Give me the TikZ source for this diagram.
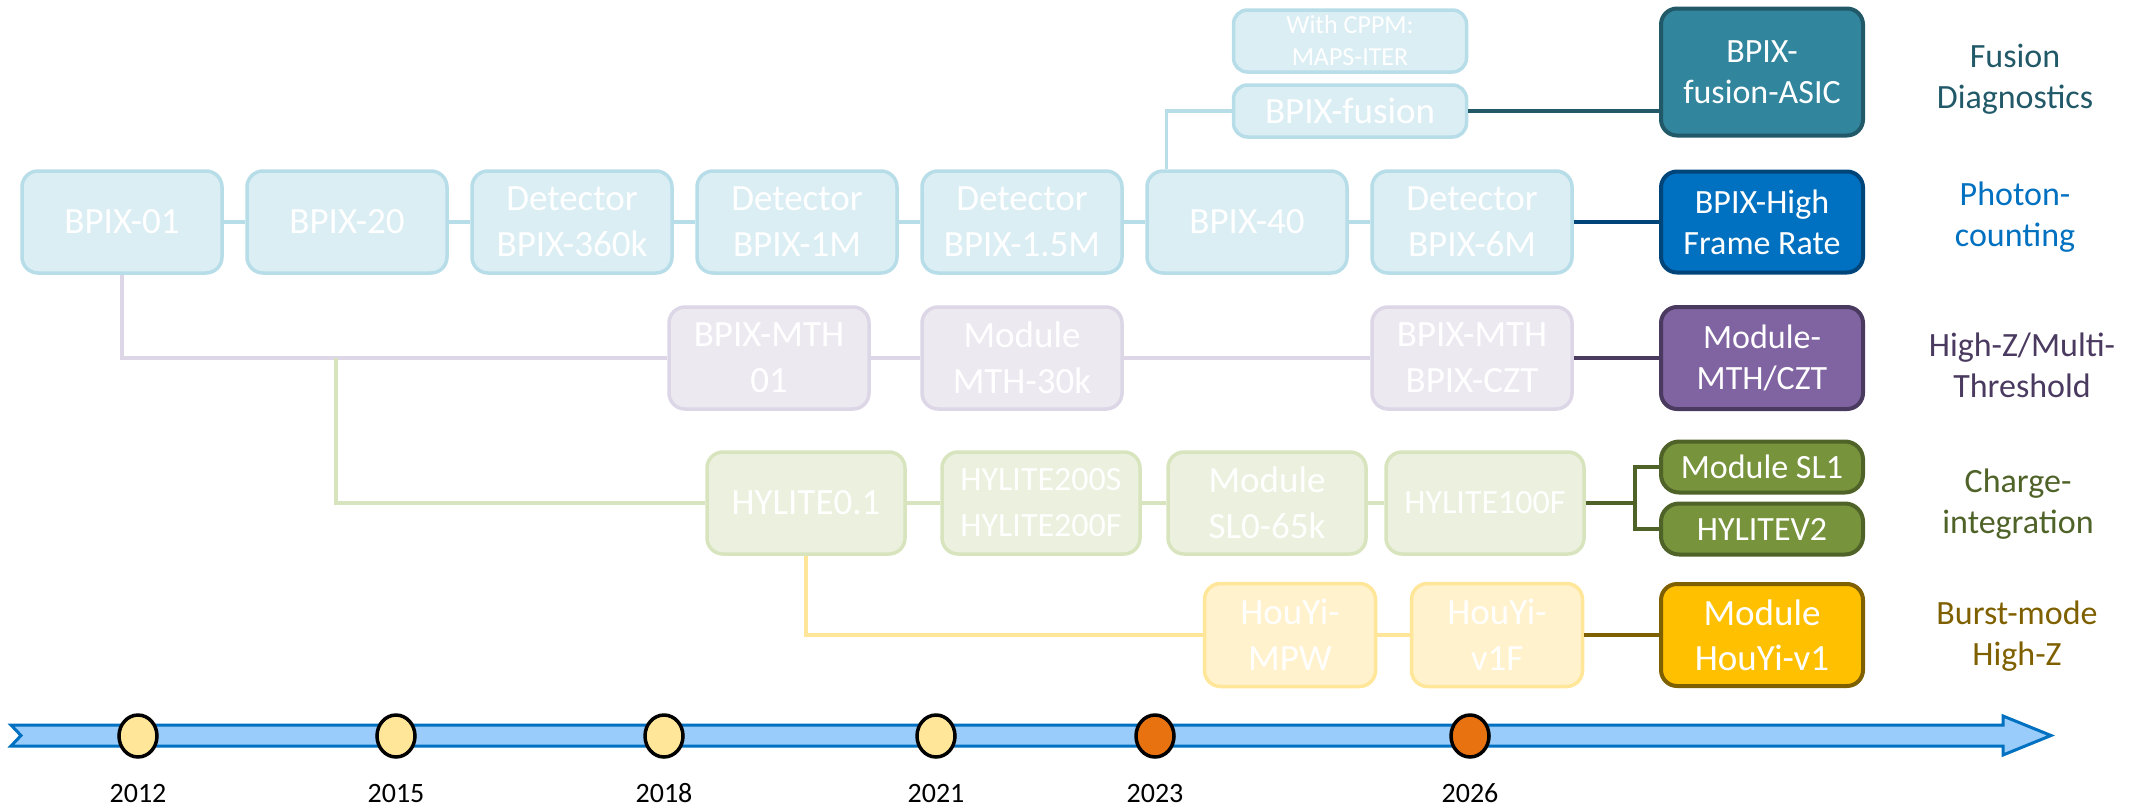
\documentclass[tikz,border=0pt]{standalone}
\usepackage{fontspec}
\setmainfont{Carlito}
\usetikzlibrary{shapes.geometric,calc}

% light (past) track colours
\definecolor{lbfill}{HTML}{DBEEF4}
\definecolor{lbline}{HTML}{B7DDE8}
\definecolor{lpfill}{HTML}{ECE9F1}
\definecolor{lpline}{HTML}{DCD6E6}
\definecolor{lgfill}{HTML}{EBF1DE}
\definecolor{lgline}{HTML}{D7E4BD}
\definecolor{lyfill}{HTML}{FFF2CC}
\definecolor{lyline}{HTML}{FFE699}
% future products
\definecolor{asicfill}{HTML}{31859C}
\definecolor{asicline}{HTML}{215968}
\definecolor{hfrfill}{HTML}{0070C0}
\definecolor{hfrline}{HTML}{00457A}
\definecolor{mthfill}{HTML}{7F64A1}
\definecolor{mthline}{HTML}{4A3A5F}
\definecolor{cifill}{HTML}{77933C}
\definecolor{ciline}{HTML}{4F6228}
\definecolor{bmfill}{HTML}{FFC000}
\definecolor{bmline}{HTML}{7F6000}
% timeline
\definecolor{tlfill}{HTML}{9ACCFB}
\definecolor{tlline}{HTML}{0070C0}
\definecolor{dotpast}{HTML}{FFE699}
\definecolor{dotnext}{HTML}{E8720F}

\begin{document}
\begin{tikzpicture}[x=1pt,y=-1pt,
  box/.style={rounded corners=16pt, line width=3.5pt, align=center, text=white,
    inner sep=0pt, font=\fontsize{37}{46}\selectfont},
  pcbox/.style={box, fill=lbfill, draw=lbline, minimum width=200pt, minimum height=102pt},
  mtbox/.style={box, fill=lpfill, draw=lpline, minimum width=200pt, minimum height=102pt},
  cibox/.style={box, fill=lgfill, draw=lgline, minimum width=198pt, minimum height=102pt},
  bmbox/.style={box, fill=lyfill, draw=lyline, minimum width=171pt, minimum height=103pt},
  dbox/.style={box, line width=4pt, minimum width=202pt, font=\fontsize{34}{41}\selectfont},
  small/.style={font=\fontsize{34}{46}\selectfont},
  lab/.style={align=center, inner sep=0pt, font=\fontsize{34}{41}\selectfont},
  lite/.style={line width=3.5pt},
  dark/.style={line width=4pt},
  dot/.style={ellipse, draw=black, line width=3.5pt, minimum width=38pt, minimum height=42pt, inner sep=0pt},
  year/.style={inner sep=0pt, font=\fontsize{28}{32}\selectfont}
]
\useasboundingbox (0,0) rectangle (2138,806);

% ---------- photon-counting track ----------
\node[pcbox] (b01)  at (122,222)  {BPIX-01};
\node[pcbox] (b20)  at (347,222)  {BPIX-20};
\node[pcbox] (b360) at (572,222)  {Detector\\BPIX-360k};
\node[pcbox] (b1m)  at (797,222)  {Detector\\BPIX-1M};
\node[pcbox] (b15m) at (1022,222) {Detector\\BPIX-1.5M};
\node[pcbox] (b40)  at (1247,222) {BPIX-40};
\node[pcbox] (b6m)  at (1472,222) {Detector\\BPIX-6M};

% fusion branch
\node[pcbox, minimum width=233pt, minimum height=62pt, rounded corners=14pt,
  font=\fontsize{26}{32}\selectfont] (cppm) at (1350,41) {With CPPM:\\MAPS-ITER};
\node[pcbox, minimum width=233pt, minimum height=52pt, rounded corners=14pt] (fus) at (1350,111) {BPIX-fusion};

% ---------- multi-threshold track ----------
\node[mtbox] (m1) at (769,358)  {BPIX-MTH\\01};
\node[mtbox] (m2) at (1022,358) {Module\\MTH-30k};
\node[mtbox] (m3) at (1472,358) {BPIX-MTH\\BPIX-CZT};

% ---------- charge-integration track ----------
\node[cibox] (h1) at (806,503)  {HYLITE0.1};
\node[cibox, small] (h2) at (1041,503) {HYLITE200S\\HYLITE200F};
\node[cibox] (h3) at (1267,503) {Module\\SL0-65k};
\node[cibox, small] (h4) at (1485,503) {HYLITE100F};

% ---------- burst-mode track ----------
\node[bmbox] (p1) at (1290,635) {HouYi-\\MPW};
\node[bmbox] (p2) at (1497,635) {HouYi-\\v1F};

% ---------- next-generation products ----------
\node[dbox, fill=asicfill, draw=asicline, minimum height=127pt] (asic) at (1762,72) {BPIX-\\fusion-ASIC};
\node[dbox, fill=hfrfill, draw=hfrline, minimum height=101pt] (hfr) at (1762,222) {BPIX-High\\Frame Rate};
\node[dbox, fill=mthfill, draw=mthline, minimum height=102pt] (mczt) at (1762,358) {Module-\\MTH/CZT};
\node[dbox, fill=cifill, draw=ciline, minimum height=51pt, rounded corners=18pt] (sl1) at (1762,467) {Module SL1};
\node[dbox, fill=cifill, draw=ciline, minimum height=51pt, rounded corners=18pt] (v2) at (1762,529) {HYLITEV2};
\node[dbox, fill=bmfill, draw=bmline, minimum height=102pt, font=\fontsize{37}{45}\selectfont] (hv1) at (1762,635) {Module\\HouYi-v1};

% ---------- track labels ----------
\node[lab, text=asicline] (lfus) at (2015,79)  {Fusion\\Diagnostics};
\node[lab, text=hfrfill]  (lpc)  at (2015,217) {Photon-\\counting};
\node[lab, text=mthline]  (lmt)  at (2022,365) {High-Z/Multi-\\Threshold};
\node[lab, text=ciline]   (lci)  at (2018,504) {Charge-\\integration};
\node[lab, text=bmline]   (lbm)  at (2017,636) {Burst-mode\\High-Z};

% ---------- connectors ----------
\draw[lite, lbline] (b01) -- (b20) (b20) -- (b360) (b360) -- (b1m)
  (b1m) -- (b15m) (b15m) -- (b40) (b40) -- (b6m);
\coordinate (fk) at ($(b40.north west)+(21,0)$);
\draw[lite, lbline] (fk) |- (fus.west);
\draw[dark, asicline] (fus.east) -- (fus.east -| asic.west);
\draw[dark, hfrline] (b6m.east) -- (hfr.west);

\draw[lite, lpline] (b01.south) |- (m1.west);
\draw[lite, lpline] (m1) -- (m2) (m2) -- (m3);
\draw[dark, mthline] (m3.east) -- (mczt.west);

\coordinate (gj) at (336,358);
\draw[lite, lgline] (gj) |- (h1.west);
\draw[lite, lgline] (h1) -- (h2) (h2) -- (h3) (h3) -- (h4);
\coordinate (br) at (1635,503);
\draw[dark, ciline] (h4.east) -- (br);
\draw[dark, ciline] (sl1.west) -| (br) |- (v2.west);

\draw[lite, lyline] (h1.south) |- (p1.west);
\draw[lite, lyline] (p1) -- (p2);
\draw[dark, bmline] (p2.east) -- (hv1.west);

% ---------- timeline ----------
\draw[fill=tlfill, draw=tlline, line width=3pt, line join=miter]
  (11,725) -- (2003,725) -- (2003,716) -- (2051,735.5) -- (2003,755)
  -- (2003,746) -- (11,746) -- (21,735.5) -- cycle;

\node[dot, fill=dotpast] (d12) at (138,736)  {};
\node[dot, fill=dotpast] (d15) at (396,736)  {};
\node[dot, fill=dotpast] (d18) at (664,736)  {};
\node[dot, fill=dotpast] (d21) at (936,736)  {};
\node[dot, fill=dotnext] (d23) at (1155,736) {};
\node[dot, fill=dotnext] (d26) at (1470,736) {};

\node[year] (y12) at (138,793)  {2012};
\node[year] (y15) at (396,793)  {2015};
\node[year] (y18) at (664,793)  {2018};
\node[year] (y21) at (936,793)  {2021};
\node[year] (y23) at (1155,793) {2023};
\node[year] (y26) at (1470,793) {2026};
\end{tikzpicture}
\end{document}
